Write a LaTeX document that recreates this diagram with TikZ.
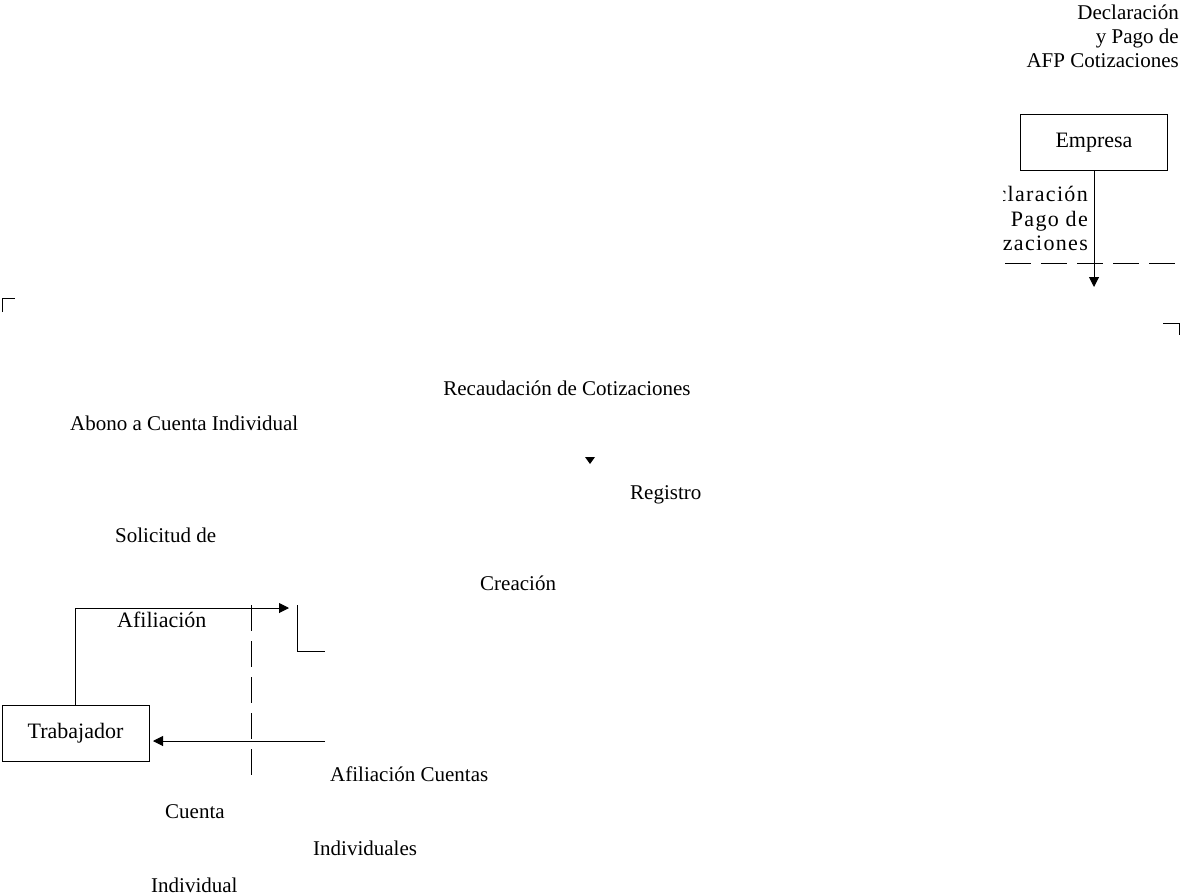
\documentclass[tikz,border=0pt]{standalone}
\usepackage{fontspec}
\setmainfont{Liberation Serif}
\newfontfamily\boxfont{Liberation Serif}
\newfontfamily\wideboxfont[LetterSpace=6]{Liberation Serif}
\usetikzlibrary{arrows.meta}
\begin{document}
\begin{tikzpicture}[x=1pt,y=-1pt,
  lbl/.style={inner sep=0pt,font=\fontsize{21}{24}\selectfont},
  boxlbl/.style={inner sep=0pt,font=\boxfont\fontsize{22}{24}\selectfont},
  widelbl/.style={inner sep=0pt,font=\wideboxfont\fontsize{22}{24}\selectfont},
  entity/.style={draw,line width=1pt,minimum width=147pt,minimum height=56pt,inner sep=0pt,font=\boxfont\fontsize{22}{24}\selectfont},
  flow/.style={line width=1pt,-{Triangle[length=10pt,width=10pt]}},
  plain/.style={line width=1pt},
  boundary/.style={line width=1pt,dash pattern=on 26pt off 10pt}]
\useasboundingbox (0,0) rectangle (1180,896);

% entities
\node[entity] (emp) at (1094,143) {Empresa};
\node[entity] (trab) at (75.5,733.5) {Trabajador};

% labels near the company
\node[lbl,align=right,anchor=north east] (declTop) at (1179,5) {Declaración\\y Pago de\\AFP Cotizaciones};
\begin{scope}
  \clip (1003,180) rectangle (1180,258);
  \node[widelbl,anchor=base east] (decl1) at (1088,202) {Declaración};
  \node[widelbl,anchor=base east] (decl2) at (1088,226) {Pago de};
  \node[widelbl,anchor=base east] (decl3) at (1088,250) {Cotizaciones};
\end{scope}

% company flow
\coordinate (empTip) at (1094,287);
\draw[flow] (emp.south) -- (empTip);
\coordinate (bndA) at (1005,263);
\coordinate (bndB) at (1180,263);
\draw[boundary] (bndA) -- (bndB);

% corner marks
\coordinate (cTL) at (2,298);
\draw[plain] (2,312) -- (cTL) -- (15,298);
\coordinate (cTR) at (1179,323);
\draw[plain] (1163,323) -- (cTR) -- (1179,335);

% process texts
\node[lbl,anchor=base] (recaud) at (567,395) {Recaudación de Cotizaciones};
\node[lbl,anchor=base west] (abono) at (70,430) {Abono a Cuenta Individual};
\node[lbl,anchor=base west] (registro) at (630,499) {Registro};
\node[lbl,anchor=base west] (solic) at (115,542) {Solicitud de};
\node[lbl,anchor=base west] (creacion) at (480,590) {Creación};
\node[lbl,anchor=base west] (afcuentas) at (330,781) {Afiliación Cuentas};
\node[lbl,anchor=base west] (cuenta) at (165,818) {Cuenta};
\node[lbl,anchor=base west] (indiv2) at (313,855) {Individuales};
\node[lbl,anchor=base west] (indiv) at (151,892) {Individual};
\node[boxlbl,anchor=base west] (afil) at (117,627) {Afiliación};

% lone arrow tip
\fill (585,457) -- (595,457) -- (590,464) -- cycle;

% worker flows
\coordinate (afTip) at (289,608);
\draw[flow] (trab.north) |- (afTip);
\coordinate (regA) at (297,605);
\coordinate (regB) at (325,651);
\draw[plain] (regA) |- (regB);
\coordinate (retStart) at (325,741);
\draw[flow,shorten >=3.5pt] (retStart) -- (trab.east |- retStart);
\coordinate (bndC) at (251,605);
\coordinate (bndD) at (251,780);
\draw[boundary] (bndC) -- (bndD);
\end{tikzpicture}
\end{document}
